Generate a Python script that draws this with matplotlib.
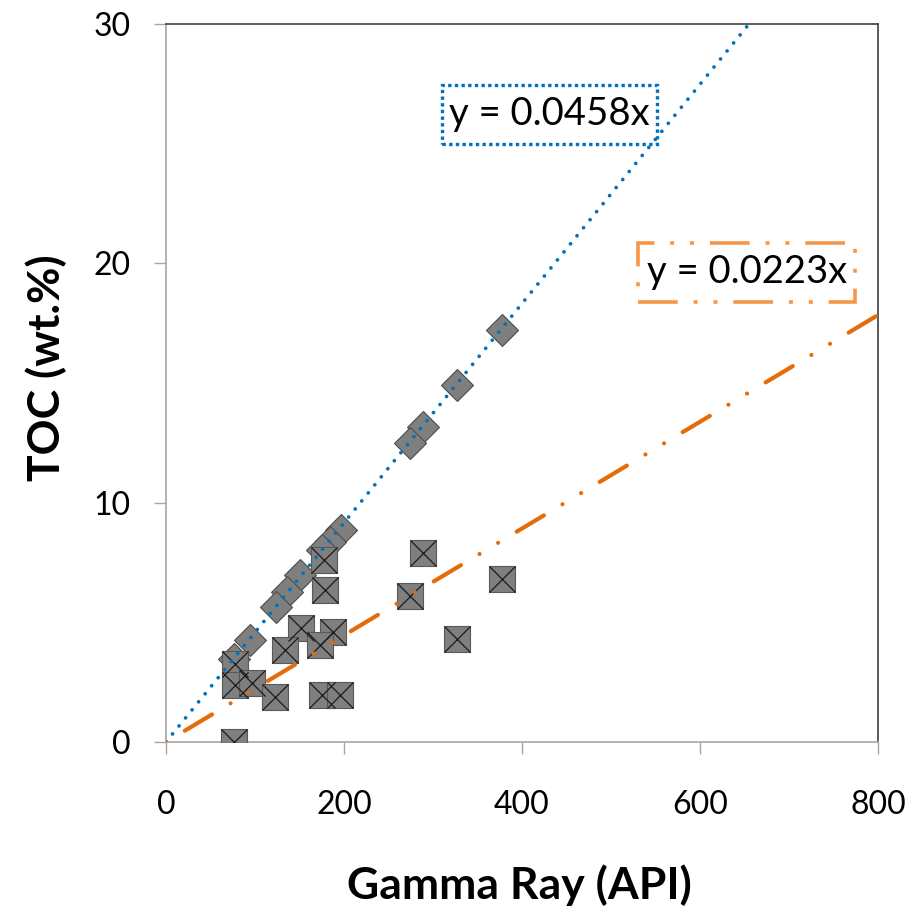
import numpy as np
import matplotlib
matplotlib.use("Agg")
import matplotlib.pyplot as plt
from matplotlib.patches import Rectangle

plt.rcParams['font.family'] = ['Lato', 'DejaVu Sans']

# samples on the steep trend (diamonds)
gr_diamond = [377, 327, 289, 274, 197, 184, 175, 151, 136, 124, 94, 76]
toc_diamond = [17.2, 14.9, 13.15, 12.5, 8.86, 8.37, 8.02, 6.98, 6.28, 5.65, 4.26, 3.45]

# samples on the low trend (crossed squares)
gr_square = [289, 377, 274, 327, 177, 179, 152, 188, 173, 134, 77, 77, 97, 122, 175, 195, 76]
toc_square = [7.9, 6.8, 6.1, 4.3, 7.6, 6.35, 4.75, 4.6, 4.05, 3.85, 3.25, 2.38, 2.45, 1.89, 1.96, 1.96, 0.0]

# trend line slopes
slope_blue = 0.0458
slope_orange = 0.0223
x_line = np.array([0, 800])

xticks = [0, 200, 400, 600, 800]
yticks = [0, 10, 20, 30]

fig = plt.figure(figsize=(9.13, 9.08), dpi=100)
ax = fig.add_axes([166/913, 166/908, 712/913, 718/908])

# markers
ax.plot(gr_diamond, toc_diamond, linestyle='none', marker='D', markersize=16.5,
        markerfacecolor='#7f7f7f', markeredgecolor='#4d4d4d', markeredgewidth=0.8, zorder=2)
ax.plot(gr_square, toc_square, linestyle='none', marker='s', markersize=19,
        markerfacecolor='#7f7f7f', markeredgecolor='#595959', markeredgewidth=0.8, zorder=3)
ax.plot(gr_square, toc_square, linestyle='none', marker='x', markersize=19,
        markeredgecolor='#1a1a1a', markeredgewidth=0.9, zorder=3)

# trend lines
ax.plot(x_line, slope_blue * x_line, color='#0070C0', linewidth=2.7,
        linestyle=(0, (0.01, 2.75)), dash_capstyle='round', zorder=4)
ax.plot(x_line, slope_orange * x_line, color='#E46C0A', linewidth=3,
        linestyle=(17.95, (7.6, 5.2, 0.01, 5.2, 0.01, 5.2)), dash_capstyle='round', zorder=4)

# equation boxes
ax.add_patch(Rectangle((0.387, 0.833), 0.302, 0.082, transform=ax.transAxes, fill=False,
                       edgecolor='#0070C0', linewidth=2.4, linestyle=(0, (1, 1)),
                       clip_on=False, zorder=5))
ax.text(0.387 + 0.151, 0.833 + 0.041, 'y = 0.0458x', transform=ax.transAxes,
        ha='center', va='center', fontsize=27.5, color='black', zorder=6)

ax.add_patch(Rectangle((0.663, 0.613), 0.305, 0.082, transform=ax.transAxes, fill=False,
                       edgecolor='#F79646', linewidth=2.6,
                       linestyle=(0, (11, 4.4, 1.1, 4.4, 1.1, 4.4)),
                       clip_on=False, zorder=5))
ax.text(0.663 + 0.1525, 0.613 + 0.041, 'y = 0.0223x', transform=ax.transAxes,
        ha='center', va='center', fontsize=27.5, color='black', zorder=6)

ax.set_xlim(0, 800)
ax.set_ylim(0, 30)
ax.set_xticks(xticks)
ax.set_yticks(yticks)

for side in ['left', 'bottom']:
    ax.spines[side].set_color('#a6a6a6')
    ax.spines[side].set_linewidth(1.2)
for side in ['top', 'right']:
    ax.spines[side].set_color('#404040')
    ax.spines[side].set_linewidth(1.2)

ax.tick_params(axis='x', direction='out', length=8.6, width=1, color='#a6a6a6',
               pad=26, labelsize=23, labelcolor='black')
ax.tick_params(axis='y', direction='out', length=8.6, width=1, color='#a6a6a6',
               pad=17, labelsize=23, labelcolor='black')

ax.set_xlabel('Gamma Ray (API)', fontsize=32, fontweight='bold')
ax.set_ylabel('TOC (wt.%)', fontsize=32, fontweight='bold')
ax.xaxis.set_label_coords(0.496, -0.171)
ax.yaxis.set_label_coords(-0.139, 0.522)

fig.savefig('out.png', dpi=100)
